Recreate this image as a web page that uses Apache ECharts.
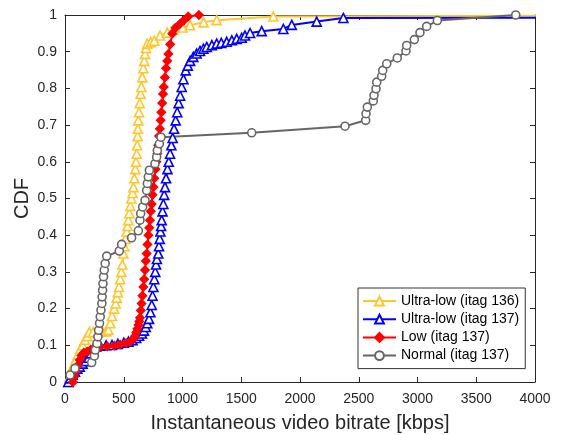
<!DOCTYPE html>
<html><head><meta charset="utf-8">
<script src="https://cdn.jsdelivr.net/npm/echarts@6/dist/echarts.min.js"></script>
<style>html,body{margin:0;padding:0;background:#fff}#c{width:562px;height:435px}</style>
</head><body><div id="c"></div>
<script>
const seriesNames = ['Ultra-low (itag 136)', 'Ultra-low (itag 137)', 'Low (itag 137)', 'Normal (itag 137)'];
const xTicks = [0, 500, 1000, 1500, 2000, 2500, 3000, 3500, 4000];
const yTicks = [0, 0.1, 0.2, 0.3, 0.4, 0.5, 0.6, 0.7, 0.8, 0.9, 1];

const ultraLow136 = [[28,0.0],[40,0.015],[55,0.03],[70,0.045],[90,0.06],[110,0.075],[130,0.09],[150,0.10],[170,0.115],[190,0.125],[207,0.136],[240,0.136],[280,0.136],[320,0.137],[350,0.138],[369,0.142],[385,0.16],[400,0.18],[418,0.20],[431,0.214],[440,0.23],[450,0.245],[460,0.259],[470,0.28],[480,0.30],[488,0.32],[497,0.35],[505,0.37],[515,0.39],[525,0.41],[532,0.425],[539,0.441],[548,0.46],[556,0.48],[565,0.50],[575,0.515],[582,0.531],[590,0.555],[598,0.58],[604,0.60],[610,0.622],[614,0.645],[618,0.67],[621,0.69],[624,0.713],[630,0.735],[636,0.76],[643,0.785],[650,0.804],[658,0.83],[666,0.855],[674,0.875],[681,0.894],[690,0.91],[700,0.922],[730,0.926],[760,0.93],[809,0.944],[870,0.952],[922,0.96],[1000,0.966],[1064,0.972],[1180,0.98],[1291,0.986],[1773,0.996],[4500,0.998]];

const ultraLow137 = [[28,0.0],[45,0.01],[65,0.02],[85,0.028],[105,0.036],[125,0.042],[150,0.05],[175,0.057],[200,0.066],[222,0.078],[241,0.09],[265,0.096],[300,0.099],[350,0.10],[400,0.101],[450,0.104],[500,0.107],[540,0.11],[575,0.114],[605,0.12],[630,0.126],[655,0.132],[672,0.14],[687,0.15],[700,0.16],[715,0.172],[727,0.19],[738,0.21],[745,0.235],[752,0.259],[760,0.28],[768,0.30],[775,0.32],[782,0.335],[794,0.35],[800,0.37],[806,0.39],[812,0.41],[818,0.425],[823,0.441],[830,0.465],[837,0.485],[844,0.51],[851,0.531],[860,0.555],[872,0.58],[883,0.60],[894,0.622],[905,0.645],[916,0.665],[928,0.69],[942,0.713],[955,0.735],[967,0.76],[980,0.78],[993,0.804],[1008,0.825],[1027,0.849],[1045,0.862],[1065,0.875],[1092,0.886],[1120,0.895],[1149,0.902],[1178,0.908],[1206,0.913],[1250,0.918],[1291,0.922],[1330,0.924],[1376,0.927],[1420,0.931],[1461,0.935],[1504,0.938],[1532,0.944],[1575,0.951],[1674,0.956],[1858,0.962],[1930,0.973],[2142,0.982],[2369,0.992],[4500,0.993]];

const low137 = [[68,0.0],[80,0.015],[95,0.03],[110,0.045],[125,0.06],[140,0.072],[160,0.08],[190,0.083],[220,0.088],[260,0.094],[300,0.096],[360,0.097],[420,0.099],[470,0.102],[520,0.106],[555,0.11],[579,0.116],[595,0.125],[606,0.135],[616,0.145],[625,0.155],[632,0.165],[638,0.175],[645,0.195],[652,0.214],[659,0.235],[667,0.259],[674,0.28],[681,0.305],[688,0.33],[695,0.35],[702,0.375],[710,0.40],[717,0.42],[723,0.441],[730,0.465],[738,0.485],[745,0.51],[752,0.531],[760,0.555],[770,0.58],[778,0.60],[786,0.622],[793,0.645],[800,0.67],[807,0.69],[814,0.713],[820,0.735],[827,0.76],[834,0.785],[840,0.804],[850,0.83],[860,0.855],[870,0.875],[880,0.894],[895,0.92],[913,0.949],[940,0.965],[979,0.976],[1010,0.985],[1049,0.996],[1140,1.0]];

const normal137 = [[43,0.019],[85,0.037],[227,0.053],[250,0.071],[258,0.087],[272,0.105],[280,0.123],[286,0.141],[294,0.160],[300,0.178],[306,0.196],[314,0.214],[316,0.232],[320,0.250],[323,0.268],[328,0.287],[334,0.305],[342,0.323],[355,0.343],[462,0.357],[482,0.375],[567,0.393],[624,0.412],[638,0.441],[644,0.459],[661,0.477],[681,0.495],[695,0.522],[701,0.541],[709,0.559],[718,0.577],[766,0.595],[780,0.613],[786,0.631],[803,0.649],[817,0.667],[1589,0.679],[2383,0.697],[2559,0.713],[2562,0.731],[2573,0.749],[2624,0.766],[2630,0.781],[2647,0.799],[2653,0.817],[2695,0.833],[2704,0.849],[2738,0.867],[2828,0.883],[2902,0.902],[2908,0.917],[2973,0.933],[3021,0.952],[3078,0.969],[3169,0.985],[3836,1.0]];

const colors = ['#FFC62E', '#0000FF', '#FF0000', '#666666'];
const FONT = 'Liberation Sans, Arial, Helvetica, sans-serif';
const axisColor = '#262626';

const chart = echarts.init(document.getElementById('c'), null, {renderer: 'canvas'});

function mk(name, data, color, symbol, size, filled, lw) {
  return {
    name: name, type: 'line', data: data, xAxisIndex: 0, yAxisIndex: 0,
    symbol: symbol, symbolSize: size, showSymbol: true, showAllSymbol: true, clip: true,
    lineStyle: {color: color, width: lw},
    itemStyle: {color: filled ? color : '#fff', borderColor: color, borderWidth: 1.6},
    animation: false, z: 3
  };
}

const option = {
  animation: false,
  textStyle: {fontFamily: FONT},
  grid: {left: 65, right: 27, top: 15, bottom: 53, containLabel: false, outerBoundsMode: 'none'},
  legend: {
    left: 358, top: 288, orient: 'vertical',
    data: seriesNames,
    itemWidth: 33, itemHeight: 11, itemGap: 2.2,
    padding: [5, 6, 5, 4],
    borderColor: '#333', borderWidth: 1, backgroundColor: '#fff',
    textStyle: {fontFamily: FONT, fontSize: 14, color: '#000', lineHeight: 16}
  },
  xAxis: [{
    type: 'value', min: 0, max: 4000, interval: 500,
    name: 'Instantaneous video bitrate [kbps]', nameLocation: 'middle', nameGap: 31,
    nameMoveOverlap: false,
    nameTextStyle: {fontFamily: FONT, fontSize: 20, color: axisColor},
    axisLine: {show: true, lineStyle: {color: axisColor, width: 1}},
    axisTick: {show: true, inside: true, length: 5, lineStyle: {color: axisColor}},
    axisLabel: {fontFamily: FONT, fontSize: 14, color: axisColor, margin: 10, formatter: v => String(v)},
    splitLine: {show: false}
  }, {
    type: 'value', min: 0, max: 4000, interval: 500, position: 'top',
    axisLine: {show: true, onZero: false, lineStyle: {color: axisColor, width: 1}},
    axisTick: {show: true, inside: true, length: 5, lineStyle: {color: axisColor}},
    axisLabel: {show: false}, splitLine: {show: false}
  }],
  yAxis: [{
    type: 'value', min: 0, max: 1, interval: 0.1,
    name: 'CDF', nameLocation: 'middle', nameGap: 33, nameRotate: 90,
    nameMoveOverlap: false,
    nameTextStyle: {fontFamily: FONT, fontSize: 20, color: axisColor},
    axisLine: {show: true, lineStyle: {color: axisColor, width: 1}},
    axisTick: {show: true, inside: true, length: 5, lineStyle: {color: axisColor}},
    axisLabel: {fontFamily: FONT, fontSize: 14, color: axisColor, margin: 8,
      formatter: v => String(Math.round(v * 10) / 10)},
    splitLine: {show: false}
  }, {
    type: 'value', min: 0, max: 1, interval: 0.1, position: 'right',
    axisLine: {show: true, onZero: false, lineStyle: {color: axisColor, width: 1}},
    axisTick: {show: true, inside: true, length: 5, lineStyle: {color: axisColor}},
    axisLabel: {show: false}, splitLine: {show: false}
  }],
  series: [
    mk(seriesNames[0], ultraLow136, colors[0], 'triangle', 9, false, 2),
    mk(seriesNames[1], ultraLow137, colors[1], 'triangle', 9, false, 2),
    mk(seriesNames[2], low137, colors[2], 'diamond', 8, true, 2),
    mk(seriesNames[3], normal137, colors[3], 'circle', 8, false, 2)
  ]
};
chart.setOption(option);
</script>
</body></html>
